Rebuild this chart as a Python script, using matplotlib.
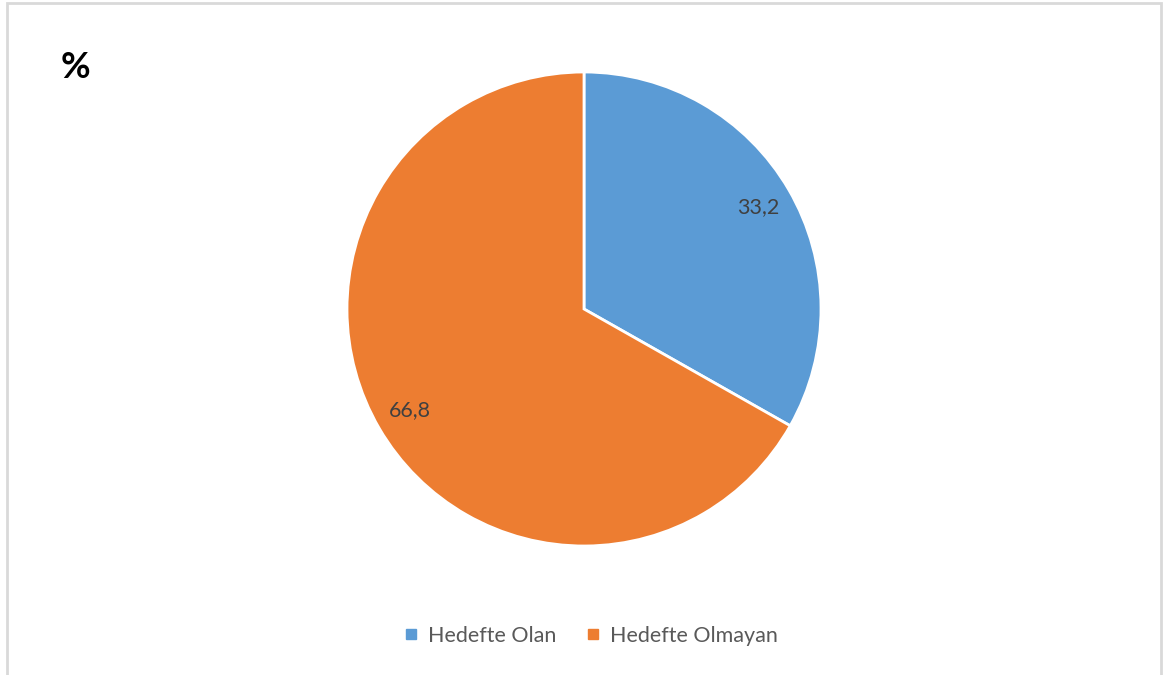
import matplotlib
matplotlib.use("Agg")
import matplotlib.pyplot as plt
from matplotlib.patches import Rectangle
from matplotlib.lines import Line2D

kategoriler = ["Hedefte Olan", "Hedefte Olmayan"]
degerler = [33.2, 66.8]
renkler = ["#5B9BD5", "#ED7D31"]
baslik = "%"

plt.rcParams["font.family"] = ["Lato", "DejaVu Sans"]

W, H = 1165, 675
fig = plt.figure(figsize=(W / 100, H / 100), dpi=100)

# cerceve
fig.patches.append(Rectangle((7 / W, -0.01), (1161 - 7) / W, (675 - 3) / H + 0.01,
                             transform=fig.transFigure, fill=False,
                             edgecolor="#d9d9d9", linewidth=2))

# pasta grafigi
cx, cy, r = 584, 309, 237
ax = fig.add_axes([(cx - r) / W, (H - cy - r) / H, 2 * r / W, 2 * r / H])
wedges, _, etiketler = ax.pie(
    degerler,
    colors=renkler,
    startangle=90,
    counterclock=False,
    autopct=lambda p: f"{p:.1f}".replace(".", ","),
    pctdistance=0.85,
    wedgeprops=dict(edgecolor="white", linewidth=2),
    textprops=dict(color="#404040", fontsize=15.5),
)
ax.set_xlim(-1, 1)
ax.set_ylim(-1, 1)

fig.text(61 / W, 1 - 68 / H, baslik, fontsize=26, fontweight="bold",
         color="black", ha="left", va="center")

tutamaclar = [Line2D([], [], marker="s", linestyle="none", markersize=7,
                     markerfacecolor=c, markeredgecolor=c) for c in renkler]
fig.legend(tutamaclar, kategoriler, loc="center", bbox_to_anchor=(589 / W, 1 - 636 / H),
           ncol=2, frameon=False, fontsize=15.5, labelcolor="#595959",
           handletextpad=0.3, columnspacing=1.2, handlelength=1.0)

fig.savefig("out.png", dpi=100)
